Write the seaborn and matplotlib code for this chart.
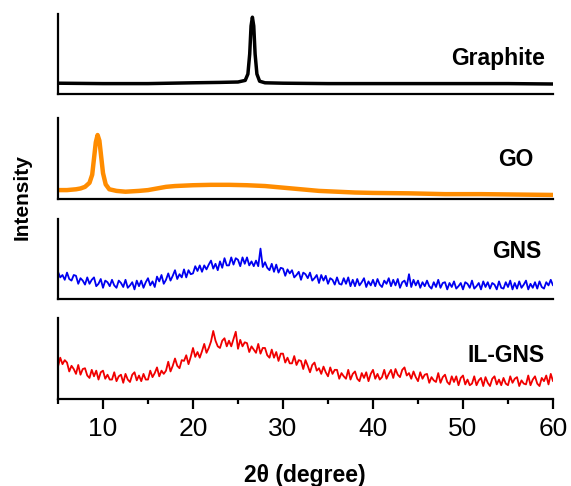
import numpy as np
import pandas as pd
import matplotlib
matplotlib.use("Agg")
import matplotlib.pyplot as plt
import seaborn as sns
from matplotlib.ticker import MultipleLocator

# ---------------- data (normalised intensity within each panel) ----------------
graphite_x = [5, 10, 15, 20, 23, 25, 25.8, 26.1, 26.3, 26.45, 26.6, 26.75, 26.9,
              27.1, 27.4, 28, 30, 35, 40, 45, 50, 55, 60]
graphite_y = [0.135, 0.13, 0.13, 0.14, 0.145, 0.15, 0.17, 0.25, 0.50, 0.85, 0.96,
              0.85, 0.50, 0.25, 0.16, 0.14, 0.135, 0.13, 0.13, 0.13, 0.13, 0.13, 0.125]

go_x = [5, 6, 7, 7.5, 8, 8.5, 8.8, 9.0, 9.2, 9.4, 9.6, 9.8, 10.0, 10.3, 10.7, 11.5,
        12.5, 14, 15, 16, 17, 18, 20, 22, 24, 26, 28, 30, 32, 34, 36, 38, 40, 44,
        48, 52, 56, 60]
go_y = [0.11, 0.11, 0.12, 0.13, 0.15, 0.20, 0.30, 0.50, 0.70, 0.79, 0.72, 0.52,
        0.32, 0.18, 0.12, 0.10, 0.09, 0.10, 0.11, 0.13, 0.15, 0.16, 0.17, 0.175,
        0.175, 0.17, 0.16, 0.14, 0.12, 0.10, 0.09, 0.08, 0.075, 0.07, 0.06, 0.06,
        0.055, 0.05]

# GNS and IL-GNS are sampled every 0.25 degree from 5 to 60
scan_x = np.arange(5.0, 60.001, 0.25)

gns_y = [
    0.34, 0.27, 0.30, 0.24,  0.33, 0.25, 0.23, 0.30,  0.29, 0.19, 0.26, 0.23,
    0.18, 0.27, 0.19, 0.24,  0.27, 0.16, 0.19, 0.25,  0.14, 0.23, 0.21, 0.16,
    0.24, 0.17, 0.14, 0.23,  0.20, 0.15, 0.24, 0.14,  0.17, 0.21, 0.12, 0.23,
    0.16, 0.23, 0.14, 0.21,  0.26, 0.17, 0.22, 0.15,  0.28, 0.22, 0.30, 0.19,
    0.24, 0.32, 0.23, 0.29,  0.36, 0.25, 0.31, 0.27,  0.37, 0.27, 0.36, 0.31,
    0.32, 0.41, 0.35, 0.42,  0.34, 0.42, 0.37, 0.43,  0.48, 0.38, 0.44, 0.36,
    0.47, 0.39, 0.51, 0.42,  0.42, 0.52, 0.43, 0.51,  0.49, 0.41, 0.52, 0.44,
    0.52, 0.42, 0.47, 0.41,  0.48, 0.41, 0.63, 0.40,  0.46, 0.39, 0.36, 0.44,
    0.34, 0.43, 0.33, 0.39,  0.38, 0.29, 0.37, 0.32,  0.36, 0.27, 0.30, 0.34,
    0.24, 0.33, 0.31, 0.26,  0.33, 0.23, 0.26, 0.30,  0.20, 0.30, 0.23, 0.29,
    0.19, 0.26, 0.24, 0.18,  0.27, 0.19, 0.18, 0.26,  0.19, 0.27, 0.16, 0.24,
    0.16, 0.25, 0.17, 0.21,  0.26, 0.15, 0.22, 0.17,  0.24, 0.16, 0.25, 0.18,
    0.15, 0.23, 0.19, 0.26,  0.16, 0.24, 0.17, 0.25,  0.14, 0.21, 0.23, 0.16,
    0.31, 0.15, 0.24, 0.17,  0.23, 0.14, 0.21, 0.16,  0.23, 0.16, 0.13, 0.21,
    0.15, 0.24, 0.14, 0.20,  0.21, 0.12, 0.20, 0.15,  0.22, 0.13, 0.16, 0.20,
    0.12, 0.21, 0.19, 0.14,  0.23, 0.13, 0.16, 0.20,  0.12, 0.22, 0.15, 0.21,
    0.13, 0.20, 0.18, 0.12,  0.22, 0.14, 0.13, 0.21,  0.15, 0.23, 0.12, 0.20,
    0.13, 0.22, 0.14, 0.18,  0.23, 0.12, 0.19, 0.14,  0.21, 0.13, 0.22, 0.15,
    0.13, 0.21, 0.17, 0.24,  0.17,
]

ilgns_y = [
    0.40, 0.51, 0.43, 0.48,  0.45, 0.34, 0.41, 0.37,  0.31, 0.42, 0.30, 0.37,
    0.38, 0.29, 0.26, 0.36,  0.28, 0.35, 0.24, 0.33,  0.35, 0.25, 0.30, 0.24,
    0.24, 0.33, 0.22, 0.28,  0.30, 0.20, 0.31, 0.24,  0.21, 0.30, 0.33, 0.23,
    0.29, 0.22, 0.31, 0.24,  0.24, 0.35, 0.27, 0.32,  0.39, 0.28, 0.35, 0.31,
    0.35, 0.46, 0.34, 0.41,  0.50, 0.41, 0.38, 0.48,  0.47, 0.54, 0.43, 0.52,
    0.63, 0.52, 0.58, 0.51,  0.59, 0.68, 0.57, 0.63,  0.71, 0.84, 0.72, 0.65,
    0.63, 0.72, 0.75, 0.65,  0.72, 0.65, 0.74, 0.83,  0.62, 0.73, 0.65, 0.70,
    0.69, 0.58, 0.65, 0.61,  0.57, 0.68, 0.56, 0.63,  0.63, 0.54, 0.51, 0.61,
    0.51, 0.58, 0.47, 0.56,  0.56, 0.45, 0.51, 0.44,  0.44, 0.53, 0.42, 0.48,
    0.47, 0.37, 0.48, 0.41,  0.33, 0.42, 0.45, 0.35,  0.38, 0.31, 0.40, 0.33,
    0.28, 0.39, 0.31, 0.36,  0.36, 0.25, 0.32, 0.28,  0.25, 0.36, 0.24, 0.31,
    0.34, 0.25, 0.22, 0.32,  0.26, 0.33, 0.22, 0.31,  0.36, 0.25, 0.31, 0.24,
    0.27, 0.36, 0.25, 0.31,  0.36, 0.26, 0.37, 0.30,  0.27, 0.36, 0.39, 0.29,
    0.32, 0.25, 0.34, 0.27,  0.22, 0.33, 0.25, 0.30,  0.31, 0.20, 0.27, 0.23,
    0.21, 0.32, 0.20, 0.27,  0.30, 0.21, 0.18, 0.28,  0.21, 0.28, 0.17, 0.26,
    0.29, 0.18, 0.24, 0.17,  0.19, 0.28, 0.17, 0.23,  0.26, 0.16, 0.27, 0.20,
    0.16, 0.25, 0.28, 0.18,  0.24, 0.17, 0.26, 0.19,  0.17, 0.28, 0.20, 0.25,
    0.27, 0.16, 0.23, 0.19,  0.18, 0.29, 0.17, 0.24,  0.28, 0.19, 0.16, 0.26,
    0.22, 0.29, 0.18, 0.31,  0.22,
]

sample_names = ["Graphite", "GO", "GNS", "IL-GNS"]
x_ticks = [10, 20, 30, 40, 50, 60]

# ---------------- style ----------------
sns.set_style("ticks")
plt.rcParams["font.family"] = ["Liberation Sans", "DejaVu Sans"]
plt.rcParams["text.color"] = "black"
plt.rcParams["xtick.color"] = "black"
plt.rcParams["axes.labelcolor"] = "black"

W, H = 571, 486
fig = plt.figure(figsize=(W / 100, H / 100), dpi=100)

left_px, right_px = 58, 553
panels_px = [(14, 94), (118, 199), (219, 299), (318, 399)]
series = [
    (graphite_x, graphite_y, "#000000", 2.5),
    (go_x, go_y, "#FF8C00", 3.2),
    (scan_x, gns_y, "#0000F0", 1.3),
    (scan_x, ilgns_y, "#F00000", 1.3),
]
label_pos = [(0.984, 0.45), (0.96, 0.49), (0.976, 0.59), (0.984, 0.54)]

axes = []
for i, ((top, bot), (xs, ys, col, lw)) in enumerate(zip(panels_px, series)):
    ax = fig.add_axes([left_px / W, 1 - bot / H, (right_px - left_px) / W, (bot - top) / H])
    df = pd.DataFrame({"x": np.asarray(xs, dtype=float), "y": np.asarray(ys, dtype=float)})
    sns.lineplot(data=df, x="x", y="y", ax=ax, color=col, linewidth=lw,
                 sort=False, estimator=None)
    ax.set_xlim(5, 60)
    ax.set_ylim(0, 1)
    ax.set_xlabel("")
    ax.set_ylabel("")
    ax.set_yticks([])
    for s in ["top", "right"]:
        ax.spines[s].set_visible(False)
    for s in ["left", "bottom"]:
        ax.spines[s].set_linewidth(1.6)
        ax.spines[s].set_color("black")
    ax.text(label_pos[i][0], label_pos[i][1], sample_names[i], transform=ax.transAxes,
            ha="right", va="center", fontsize=16.5, fontweight="bold", color="black")
    if i < 3:
        ax.set_xticks([])
    else:
        ax.set_xticks(x_ticks)
        ax.xaxis.set_minor_locator(MultipleLocator(5))
        ax.tick_params(axis="x", which="major", length=7, width=1.6, direction="out",
                       labelsize=19, pad=6, colors="black")
        ax.tick_params(axis="x", which="minor", length=3.5, width=1.6, direction="out",
                       colors="black")
    axes.append(ax)

fig.text(305 / W, 1 - 475 / H, "2θ (degree)", ha="center", va="center",
         fontsize=16.5, fontweight="bold", color="black")
fig.text(22 / W, 1 - 197 / H, "Intensity", rotation=90, ha="center", va="center",
         fontsize=15, fontweight="bold", color="black")

fig.savefig("out.png", dpi=100)
